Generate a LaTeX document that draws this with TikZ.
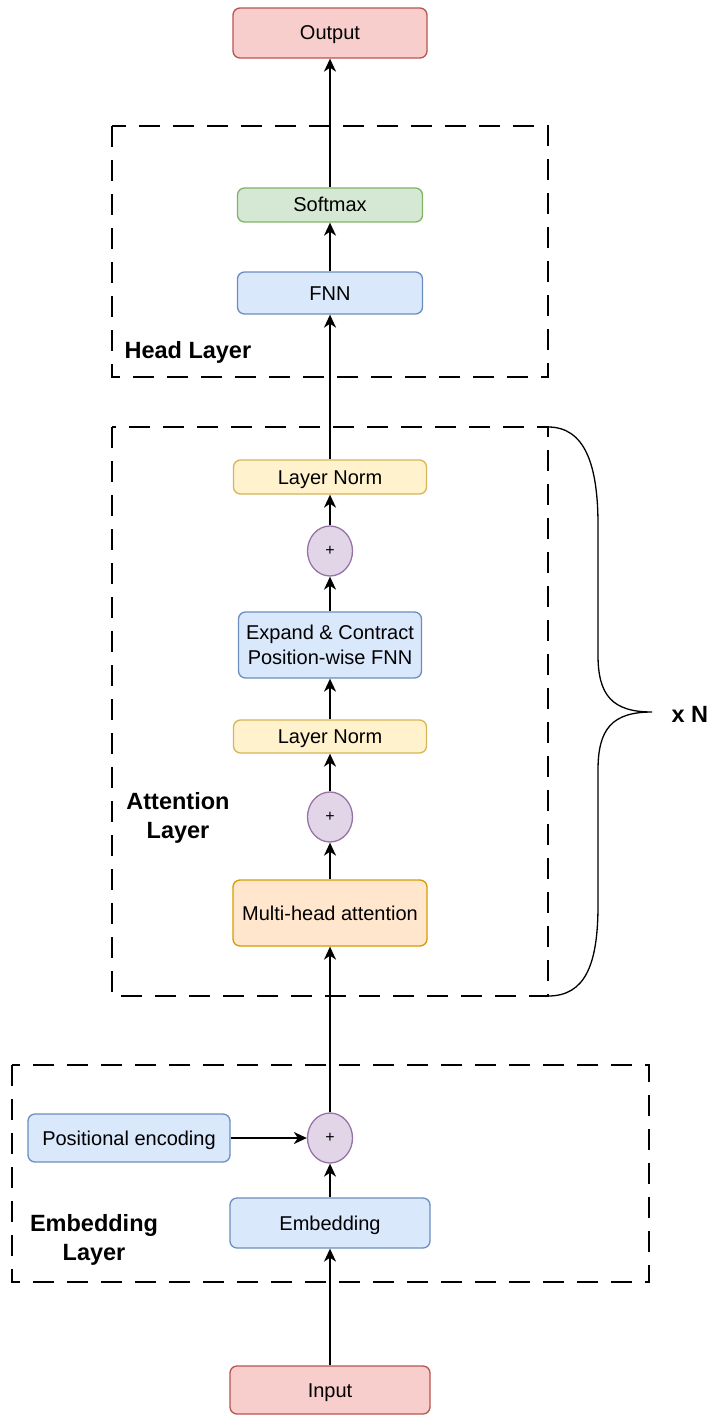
\documentclass[tikz,border=0pt]{standalone}
\usepackage{fontspec}
\setmainfont{Liberation Sans}
\usetikzlibrary{arrows.meta,shapes.geometric}
\definecolor{redfill}{HTML}{F8CECC}\definecolor{redline}{HTML}{B85450}
\definecolor{greenfill}{HTML}{D5E8D4}\definecolor{greenline}{HTML}{82B366}
\definecolor{bluefill}{HTML}{DAE8FC}\definecolor{blueline}{HTML}{6C8EBF}
\definecolor{yellowfill}{HTML}{FFF2CC}\definecolor{yellowline}{HTML}{D6B656}
\definecolor{orangefill}{HTML}{FFE6CC}\definecolor{orangeline}{HTML}{D79B00}
\definecolor{purplefill}{HTML}{E1D5E7}\definecolor{purpleline}{HTML}{9673A6}
\begin{document}
\begin{tikzpicture}[x=1pt,y=-1pt,
  block/.style={draw, rounded corners=7pt, line width=1.3pt, align=center,
    inner sep=0pt, font=\fontsize{20}{25}\selectfont},
  oneline/.style={text height=14pt, text depth=0pt},
  redbox/.style={block, oneline, fill=redfill, draw=redline},
  greenbox/.style={block, oneline, fill=greenfill, draw=greenline},
  bluebox/.style={block, fill=bluefill, draw=blueline},
  yellowbox/.style={block, oneline, fill=yellowfill, draw=yellowline},
  orangebox/.style={block, oneline, fill=orangefill, draw=orangeline},
  addnode/.style={ellipse, draw=purpleline, fill=purplefill, line width=1.3pt,
    minimum width=45pt, minimum height=50pt, inner sep=0pt,
    font=\fontsize{16}{18}\selectfont},
  group/.style={draw, line width=1.6pt, dash pattern=on 21pt off 13pt},
  grouplabel/.style={font=\fontsize{23.5}{29}\selectfont\bfseries, align=center},
  flow/.style={line width=2pt, -{Stealth[length=13pt, width=12pt, inset=4pt]}}
]
\useasboundingbox (0,0) rectangle (712,1415);

% layer groups
\draw[group] (112,126) rectangle (548,377);
\draw[group] (112,427) rectangle (548,996);
\draw[group] (12,1065) rectangle (649,1282);

\node[grouplabel, anchor=west] (headlbl) at (121,352) {Head Layer};
\node[grouplabel] (attlbl) at (178,818) {Attention\\Layer};
\node[grouplabel] (emblbl) at (94,1240) {Embedding\\Layer};

% repetition brace
\draw[line width=1.3pt] (548,427) .. controls (585,427) and (598,465) .. (598,525)
  -- (598,655) .. controls (598,695) and (612,712) .. (652,712)
  .. controls (612,712) and (598,729) .. (598,770)
  -- (598,905) .. controls (598,965) and (585,996) .. (548,996);
\node[grouplabel, anchor=west] (rep) at (668,714) {x N};

% blocks
\node[redbox, minimum width=194pt, minimum height=50pt] (out) at (330,33) {Output};
\node[greenbox, minimum width=185pt, minimum height=34pt] (soft) at (330,205) {Softmax};
\node[bluebox, oneline, minimum width=185pt, minimum height=42pt] (fnn) at (330,293) {FNN};
\node[yellowbox, minimum width=193pt, minimum height=34pt] (ln1) at (330,477) {Layer Norm};
\node[addnode] (add1) at (330,551) {+};
\node[bluebox, minimum width=183pt, minimum height=66pt] (ffn) at (330,645) {Expand \& Contract\\Position-wise FNN};
\node[yellowbox, minimum width=193pt, minimum height=33pt] (ln2) at (330,736.5) {Layer Norm};
\node[addnode] (add2) at (330,817) {+};
\node[orangebox, minimum width=194pt, minimum height=66pt] (mha) at (330,913) {Multi-head attention};
\node[addnode] (add3) at (330,1138) {+};
\node[bluebox, oneline, minimum width=202pt, minimum height=48pt] (pos) at (129,1138) {Positional encoding};
\node[bluebox, oneline, minimum width=200pt, minimum height=50pt] (emb) at (330,1223) {Embedding};
\node[redbox, minimum width=200pt, minimum height=48pt] (in) at (330,1390) {Input};

% data flow
\draw[flow] (in) -- (emb);
\draw[flow] (emb) -- (add3);
\draw[flow] (pos) -- (add3);
\draw[flow] (add3) -- (mha);
\draw[flow] (mha) -- (add2);
\draw[flow] (add2) -- (ln2);
\draw[flow] (ln2) -- (ffn);
\draw[flow] (ffn) -- (add1);
\draw[flow] (add1) -- (ln1);
\draw[flow] (ln1) -- (fnn);
\draw[flow] (fnn) -- (soft);
\draw[flow] (soft) -- (out);
\end{tikzpicture}
\end{document}
